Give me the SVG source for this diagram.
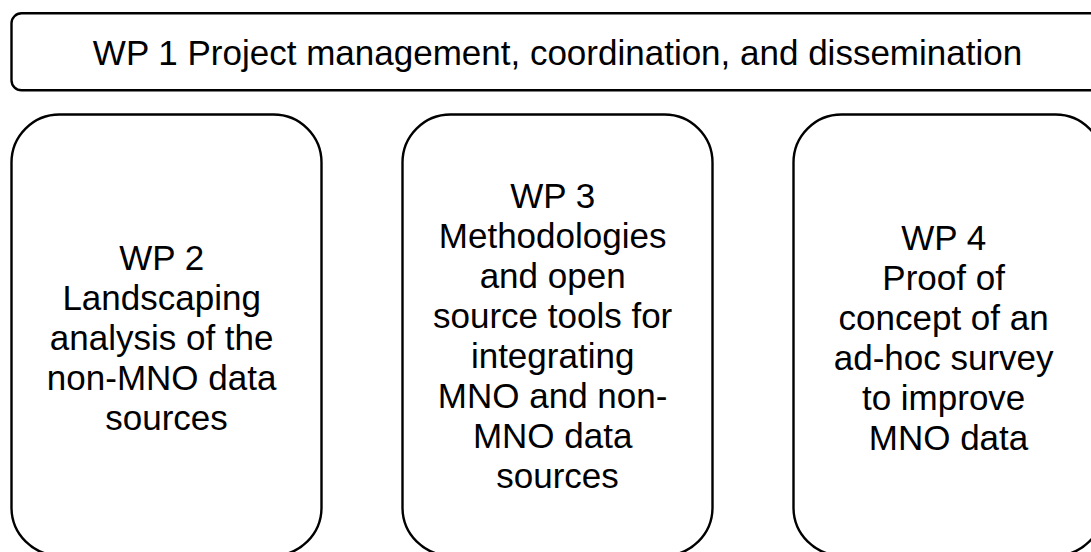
<svg xmlns="http://www.w3.org/2000/svg" width="1091" height="552" viewBox="0 0 1091 552">
  <style>
    .box { fill: #ffffff; stroke: #000000; stroke-width: 2.4; }
    .label { font-family: "Liberation Sans", Arial, sans-serif; font-size: 35px; fill: #000000; text-anchor: middle; }
  </style>
  <rect x="0" y="0" width="1091" height="552" fill="#ffffff"/>

  <g id="wp1">
    <rect class="box" x="11.5" y="13.3" width="1092" height="77" rx="10" ry="10"/>
    <text class="label" x="557.5" y="65">WP 1 Project management, coordination, and dissemination</text>
  </g>

  <g id="wp2">
    <rect class="box" x="11.5" y="114.5" width="310" height="441" rx="48" ry="48"/>
    <text class="label" x="166.5" y="270">
      <tspan x="166.5" y="270">WP 2</tspan>
      <tspan x="166.5" y="310">Landscaping</tspan>
      <tspan x="166.5" y="350">analysis of the</tspan>
      <tspan x="166.5" y="390">non-MNO data</tspan>
      <tspan x="166.5" y="430">sources</tspan>
    </text>
  </g>

  <g id="wp3">
    <rect class="box" x="402.5" y="114.5" width="310" height="441" rx="48" ry="48"/>
    <text class="label" x="557.5" y="208">
      <tspan x="557.5" y="208">WP 3</tspan>
      <tspan x="557.5" y="248">Methodologies</tspan>
      <tspan x="557.5" y="288">and open</tspan>
      <tspan x="557.5" y="328">source tools for</tspan>
      <tspan x="557.5" y="368">integrating</tspan>
      <tspan x="557.5" y="408">MNO and non-</tspan>
      <tspan x="557.5" y="448">MNO data</tspan>
      <tspan x="557.5" y="488">sources</tspan>
    </text>
  </g>

  <g id="wp4">
    <rect class="box" x="793.5" y="114.5" width="310" height="441" rx="48" ry="48"/>
    <text class="label" x="948.5" y="250">
      <tspan x="948.5" y="250">WP 4</tspan>
      <tspan x="948.5" y="290">Proof of</tspan>
      <tspan x="948.5" y="330">concept of an</tspan>
      <tspan x="948.5" y="370">ad-hoc survey</tspan>
      <tspan x="948.5" y="410">to improve</tspan>
      <tspan x="948.5" y="450">MNO data</tspan>
    </text>
  </g>

  <g id="connectors"/>
</svg>
